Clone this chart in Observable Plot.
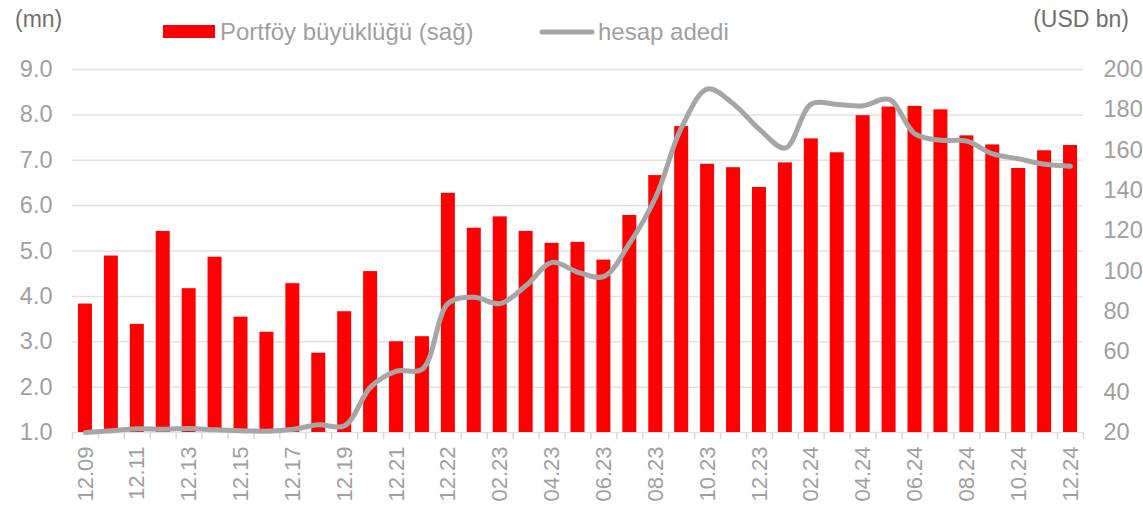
<!DOCTYPE html>
<html>
<head>
<meta charset="utf-8">
<script src="https://cdn.jsdelivr.net/npm/d3@7"></script>
<script src="https://cdn.jsdelivr.net/npm/@observablehq/plot@0.6"></script>
<style>
  html, body { margin: 0; padding: 0; background: #fff; }
  #wrap { position: relative; width: 1143px; height: 513px; overflow: hidden; }
  #wrap > svg { position: absolute; left: 0; top: 0; }
</style>
</head>
<body>
<div id="wrap"></div>
<script>
// ---- data ----
const categories = [
  "12.09","12.10","12.11","12.12","12.13","12.14","12.15","12.16","12.17","12.18","12.19","12.20","12.21",
  "06.22","12.22","01.23","02.23","03.23","04.23","05.23","06.23","07.23","08.23","09.23","10.23","11.23","12.23",
  "01.24","02.24","03.24","04.24","05.24","06.24","07.24","08.24","09.24","10.24","11.24","12.24"
];
// hesap adedi (mn) – left axis
const accountsMn = [
  1.00,1.04,1.08,1.07,1.09,1.06,1.04,1.03,1.07,1.17,1.15,2.00,2.35,
  2.40,3.85,3.98,3.84,4.24,4.75,4.53,4.44,5.18,6.19,7.73,8.57,8.24,7.68,
  7.27,8.24,8.23,8.20,8.34,7.58,7.44,7.42,7.14,7.03,6.91,6.87
];
// Portföy büyüklüğü (USD bn) – right axis
const portfolioUsdBn = [
  83.7,107.5,73.6,119.7,91.3,106.9,77.2,69.7,93.8,59.3,79.9,99.8,65.0,
  67.5,138.6,121.3,126.9,119.7,113.8,114.3,105.5,127.6,147.4,171.7,153.0,151.3,141.5,
  153.7,165.6,158.7,177.1,181.4,181.7,180.0,167.1,162.6,150.9,159.7,162.3
];
const leftTicks = [1,2,3,4,5,6,7,8,9];
const rightTicks = [20,40,60,80,100,120,140,160,180,200];
const xTickLabels = categories.filter((d, i) => i % 2 === 0);
const seriesNames = ["Portföy büyüklüğü (sağ)", "hesap adedi"];
const unitLeft = "(mn)";
const unitRight = "(USD bn)";

// right axis (20..200) mapped onto left axis (1..9)
const rightToLeft = v => 1 + (v - 20) / 22.5;

const data = categories.map((c, i) => ({c, acc: accountsMn[i], port: portfolioUsdBn[i]}));

const W = 1143, H = 513, mL = 72, mR = 60, mT = 69, mB = 81;
const step = (W - mL - mR) / categories.length;
const pxPerUnit = (H - mT - mB) / (leftTicks[leftTicks.length - 1] - leftTicks[0]);
const tickLen = 7 / pxPerUnit;

const chart = Plot.plot({
  width: W, height: H,
  marginLeft: mL, marginRight: mR, marginTop: mT, marginBottom: mB,
  style: {fontFamily: "'Liberation Sans', Arial, sans-serif", fontSize: "22px", color: "#a0a0a0", background: "white"},
  x: {type: "band", domain: categories, paddingInner: 0.46, paddingOuter: 0.23, label: null},
  y: {domain: [1, 9], label: null},
  marks: [
    Plot.ruleY(leftTicks, {y: d => d, stroke: "#e2e2e2", strokeWidth: 1.5}),
    Plot.ruleX(categories, {x: d => d, y1: 1, y2: 1 - tickLen, dx: -step / 2, stroke: "#dadada", strokeWidth: 1.5}),
    Plot.ruleX([categories[categories.length - 1]], {x: d => d, y1: 1, y2: 1 - tickLen, dx: step / 2, stroke: "#dadada", strokeWidth: 1.5}),
    Plot.barY(data, {x: "c", y1: 1, y2: d => rightToLeft(d.port), fill: "#ff0000"}),
    Plot.line(data, {x: "c", y: "acc", stroke: "#a6a6a6", strokeWidth: 5, curve: "catmull-rom", strokeLinecap: "round", strokeLinejoin: "round"}),
    Plot.axisY({anchor: "left", ticks: leftTicks, tickSize: 0, tickPadding: 20, fontSize: 23.5, tickFormat: d => d.toFixed(1), fill: "#a0a0a0"}),
    Plot.axisY({anchor: "right", ticks: rightTicks.map(rightToLeft), tickSize: 0, tickPadding: 20, fontSize: 23.5,
      tickFormat: d => String(Math.round(20 + (d - 1) * 22.5)), fill: "#a0a0a0"}),
    Plot.axisX({ticks: xTickLabels, tickRotate: -90, tickSize: 0, tickPadding: 14, fill: "#a0a0a0"})
  ]
});
document.getElementById("wrap").appendChild(chart);

// ---- overlay: units and legend ----
const ov = d3.select("#wrap").append("svg")
  .attr("width", W).attr("height", H)
  .style("pointer-events", "none")
  .style("font-family", "'Liberation Sans', Arial, sans-serif");
ov.append("text").attr("x", 15).attr("y", 27).attr("font-size", 23).attr("fill", "#6f6f6f").text(unitLeft);
ov.append("text").attr("x", 1129).attr("y", 27).attr("font-size", 23).attr("fill", "#6f6f6f").attr("text-anchor", "end").text(unitRight);
ov.append("rect").attr("x", 163).attr("y", 25).attr("width", 52).attr("height", 13).attr("fill", "#ff0000");
ov.append("text").attr("x", 220).attr("y", 40).attr("font-size", 24).attr("fill", "#a0a0a0").text(seriesNames[0]);
ov.append("line").attr("x1", 542).attr("x2", 592).attr("y1", 32).attr("y2", 32)
  .attr("stroke", "#a6a6a6").attr("stroke-width", 5).attr("stroke-linecap", "round");
ov.append("text").attr("x", 598).attr("y", 40).attr("font-size", 24).attr("fill", "#a0a0a0").text(seriesNames[1]);
</script>
</body>
</html>
